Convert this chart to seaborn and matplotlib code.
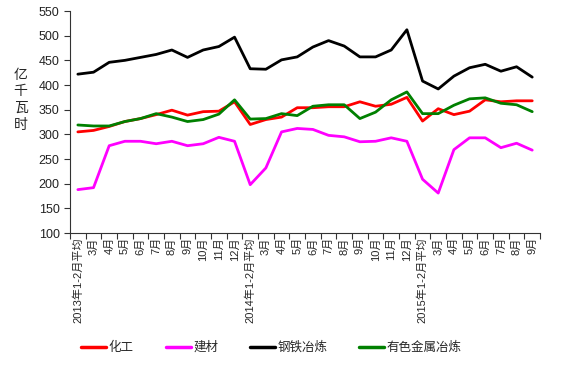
import numpy as np
import pandas as pd
import matplotlib
matplotlib.use('Agg')
import matplotlib.pyplot as plt
import seaborn as sns

# categories (x axis)
months = ['3月', '4月', '5月', '6月', '7月', '8月', '9月', '10月', '11月', '12月']
labels = (['2013年1-2月平均'] + months +
          ['2014年1-2月平均'] + months +
          ['2015年1-2月平均'] + months[:7])

# series values, 亿千瓦时
chem = [305, 308, 316, 326, 332, 340, 349, 339, 346, 347, 366,
        320, 330, 335, 354, 354, 356, 356, 366, 357, 361, 375,
        327, 352, 340, 347, 370, 366, 368, 368]
build = [188, 192, 277, 286, 286, 281, 286, 277, 281, 294, 286,
         198, 232, 305, 312, 310, 298, 295, 285, 286, 293, 286,
         209, 181, 269, 293, 293, 273, 282, 268]
steel = [422, 426, 446, 450, 456, 462, 471, 456, 471, 478, 497,
         433, 432, 451, 457, 477, 490, 479, 457, 457, 471, 512,
         408, 392, 418, 435, 442, 428, 437, 416]
metal = [319, 317, 317, 326, 332, 342, 335, 326, 330, 341, 370,
         331, 332, 342, 338, 357, 360, 360, 332, 345, 370, 386,
         342, 342, 359, 372, 374, 363, 360, 346]

names = ['化工', '建材', '钢铁冶炼', '有色金属冶炼']
colors = ['#FF0000', '#FF00FF', '#000000', '#008000']

x = np.arange(len(labels))
df = pd.DataFrame({
    'x': np.tile(x, 4),
    'value': chem + build + steel + metal,
    'series': np.repeat(names, len(labels)),
})

sns.set_style('white')
plt.rcParams['font.family'] = ['Liberation Sans', 'Noto Sans CJK SC', 'DejaVu Sans']

fig = plt.figure(figsize=(5.67, 3.67), dpi=100)
ax = fig.add_axes([0.1235, 0.365, 0.829, 0.605])

sns.lineplot(data=df, x='x', y='value', hue='series', hue_order=names,
             palette=colors, linewidth=2, ax=ax, legend=False)

ax.set_xlim(-0.5, len(labels) - 0.5)
ax.set_ylim(100, 550)
ax.set_yticks(range(100, 551, 50))
ax.tick_params(axis='y', labelsize=9, direction='out', length=4, width=0.8,
               left=True, colors='#333333', labelcolor='#222222')

ax.set_xticks(x)
ax.set_xticklabels(labels, rotation=90, fontsize=8)
ax.set_xticks(np.arange(-0.5, len(labels), 1), minor=True)
ax.tick_params(axis='x', which='major', length=0, pad=3)
ax.tick_params(axis='x', which='minor', direction='out', length=4, width=0.8,
               bottom=True, colors='#333333')
ax.set_xlabel('')
ax.set_ylabel('亿\n千\n瓦\n时', rotation=0, fontsize=10, va='center',
              linespacing=1.25)
ax.yaxis.set_label_coords(-0.105, 0.6)

for s in ['top', 'right']:
    ax.spines[s].set_visible(False)
for s in ['left', 'bottom']:
    ax.spines[s].set_color('#333333')
    ax.spines[s].set_linewidth(0.8)

handles = [plt.Line2D([], [], color=c, linewidth=2.5) for c in colors]
fig.legend(handles, names, loc='center', bbox_to_anchor=(0.479, 0.052), ncol=4,
           frameon=False, fontsize=9, handlelength=2.0, handletextpad=0.2,
           columnspacing=2.55)

fig.savefig('out.png', dpi=100)
